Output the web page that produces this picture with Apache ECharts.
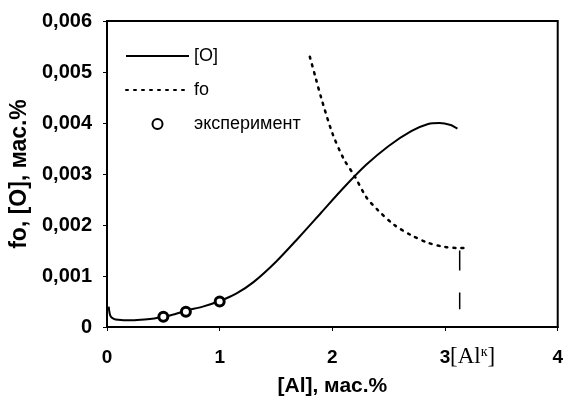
<!DOCTYPE html>
<html>
<head>
<meta charset="utf-8">
<script src="https://cdn.jsdelivr.net/npm/echarts@6/dist/echarts.min.js"></script>
<style>
html, body { margin: 0; padding: 0; background: #fff; }
#chart { width: 566px; height: 405px; }
</style>
</head>
<body>
<div id="chart"></div>
<script>
// [O] - расчётная кривая
var oX = [0.015, 0.03, 0.06, 0.1, 0.2, 0.3, 0.4, 0.5, 0.6, 0.7, 0.85, 1.0, 1.15, 1.3, 1.5, 1.7, 1.9, 2.1, 2.3, 2.5, 2.7, 2.85, 2.95, 3.05, 3.11]
var oY = [0.0004, 0.00022, 0.00016, 0.00014, 0.00013, 0.00014, 0.00016, 0.0002, 0.00025, 0.00032, 0.0004, 0.00051, 0.00066, 0.00088, 0.00128, 0.00175, 0.00224, 0.00273, 0.00318, 0.00355, 0.00384, 0.00398, 0.004, 0.00396, 0.00389]

// fo
var foX = [1.8, 1.85, 1.9, 2.0, 2.1, 2.2, 2.3, 2.4, 2.55, 2.7, 2.85, 3.0, 3.1, 3.2]
var foY = [0.0053, 0.0049, 0.0045, 0.0038, 0.0033, 0.00295, 0.00255, 0.0023, 0.002, 0.0018, 0.00165, 0.00157, 0.00155, 0.00155]

// эксперимент
var expX = [0.5, 0.7, 1.0]
var expY = [0.0002, 0.0003, 0.0005]

// [Al]к - вертикальная штриховая
var alkX = [3.13, 3.13]
var alkY = [0.0015, 0.00035]

function pairs(xs, ys) {
  return xs.map(function (x, i) { return [x, ys[i]] })
}

var font = 'Liberation Sans, Arial, sans-serif'
var chart = echarts.init(document.getElementById('chart'))

chart.setOption({
  animation: false,
  backgroundColor: '#fff',
  grid: {
    left: 107, right: 6, top: 21, bottom: 78,
    show: true, borderColor: '#000', borderWidth: 2
  },
  legend: {
    orient: 'vertical',
    left: 125, top: 47,
    padding: 0,
    itemWidth: 63, itemHeight: 10, itemGap: 16,
    textStyle: { fontFamily: font, fontSize: 18, color: '#000' },
    data: [
      { name: '[O]', itemStyle: { opacity: 0 } },
      { name: 'fo', itemStyle: { opacity: 0 } },
      'эксперимент'
    ]
  },
  xAxis: {
    type: 'value',
    min: 0, max: 4, interval: 1,
    name: '[Al], мас.%',
    nameLocation: 'middle',
    nameGap: 49,
    nameTextStyle: { fontFamily: font, fontSize: 21, fontWeight: 'bold', color: '#000' },
    axisLine: { lineStyle: { color: '#000', width: 2 } },
    axisTick: { show: true, length: 4, lineStyle: { color: '#000' } },
    axisLabel: { margin: 21, fontFamily: font, fontSize: 19, fontWeight: 'bold', color: '#000' },
    splitLine: { show: false }
  },
  yAxis: {
    type: 'value',
    min: 0, max: 0.006, interval: 0.001,
    name: 'fo, [O], мас.%',
    nameLocation: 'middle',
    nameGap: 76,
    nameTextStyle: { fontFamily: font, fontSize: 23, fontWeight: 'bold', color: '#000' },
    axisLine: { lineStyle: { color: '#000', width: 2 } },
    axisTick: { show: true, length: 4, lineStyle: { color: '#000' } },
    axisLabel: {
      margin: 15, fontFamily: font, fontSize: 20, fontWeight: 'bold', color: '#000',
      formatter: function (v) { return v === 0 ? '0' : v.toFixed(3).replace('.', ',') }
    },
    splitLine: { show: false }
  },
  series: [
    {
      name: '[O]',
      type: 'line',
      smooth: 0.3,
      symbol: 'none',
      lineStyle: { color: '#000', width: 2 },
      itemStyle: { color: '#000' },
      data: pairs(oX, oY)
    },
    {
      name: 'fo',
      type: 'line',
      smooth: 0.3,
      symbol: 'none',
      lineStyle: { color: '#000', width: 2.5, type: [2, 6], cap: 'round' },
      itemStyle: { color: '#000' },
      data: pairs(foX, foY)
    },
    {
      name: 'эксперимент',
      type: 'scatter',
      symbol: 'circle',
      symbolSize: 9,
      itemStyle: { color: '#fff', borderColor: '#000', borderWidth: 3, opacity: 1 },
      z: 5,
      data: pairs(expX, expY)
    },
    {
      name: 'Alk',
      type: 'line',
      symbol: 'none',
      lineStyle: { color: '#000', width: 1.5, type: [20, 22] },
      data: pairs(alkX, alkY)
    }
  ]
})

// подпись [Al]к рядом с делением 3
var p = chart.convertToPixel({ gridIndex: 0 }, [3, 0])
chart.setOption({
  graphic: [{
    type: 'text',
    x: p[0] + 5,
    y: p[1] + 18,
    style: {
      text: '{b|[Al}{s|к}{b|]}',
      rich: {
        b: { fontFamily: 'Liberation Serif, serif', fontSize: 23, fill: '#000' },
        s: { fontFamily: 'Liberation Serif, serif', fontSize: 14, fill: '#000', verticalAlign: 'top', padding: [0, 0, 10, 0] }
      }
    }
  }]
})
</script>
</body>
</html>
